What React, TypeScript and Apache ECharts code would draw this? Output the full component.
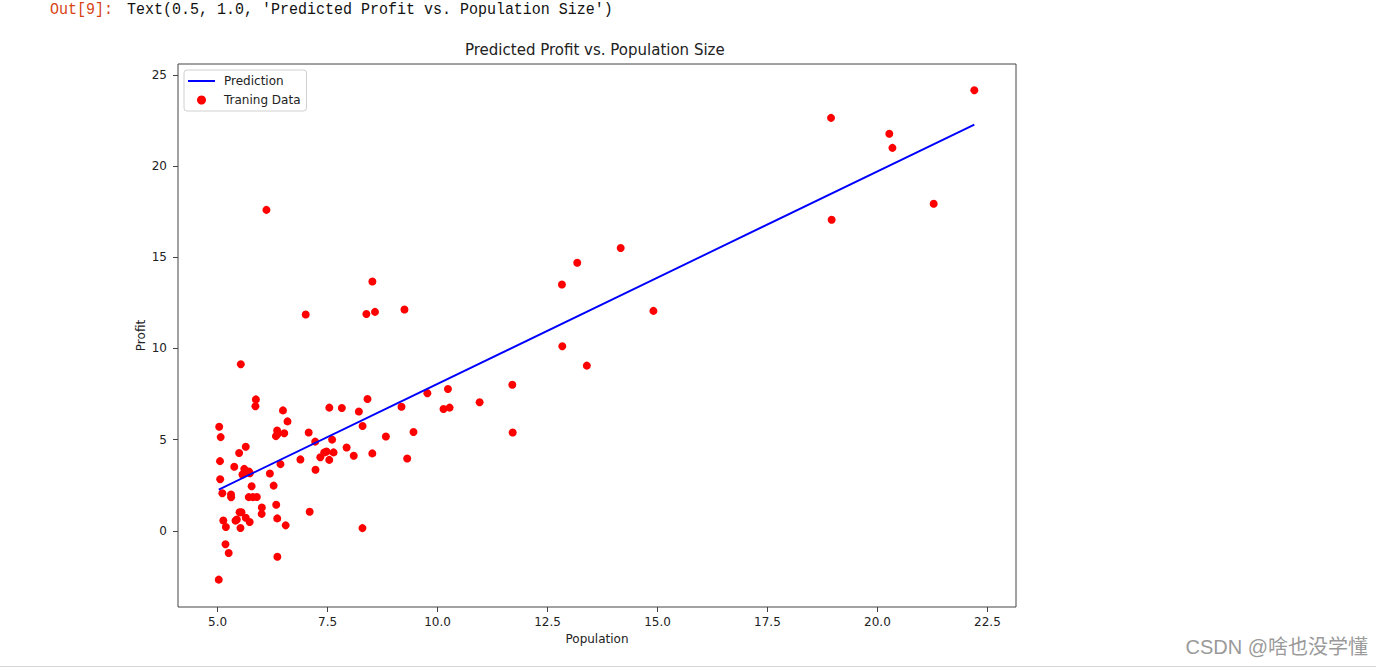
import React, { useEffect, useRef } from "react";
import * as echarts from "echarts";

const population = [
  6.1101, 5.5277, 8.5186, 7.0032, 5.8598, 8.3829, 7.4764, 8.5781, 6.4862, 5.0546,
  5.7107, 14.164, 5.734, 8.4084, 5.6407, 5.3794, 6.3654, 5.1301, 6.4296, 7.0708,
  6.1891, 20.27, 5.4901, 6.3261, 5.5649, 18.945, 12.828, 10.957, 13.176, 22.203,
  5.2524, 6.5894, 9.2482, 5.8918, 8.2111, 7.9334, 8.0959, 5.6063, 12.836, 6.3534,
  5.4069, 6.8825, 11.708, 5.7737, 7.8247, 7.0931, 5.0702, 5.8014, 11.7, 5.5416,
  7.5402, 5.3077, 7.4239, 7.6031, 6.3328, 6.3589, 6.2742, 5.6397, 9.3102, 9.4536,
  8.8254, 5.1793, 21.279, 14.908, 18.959, 7.2182, 8.2951, 10.236, 5.4994, 20.341,
  10.136, 7.3345, 6.0062, 7.2259, 5.0269, 6.5479, 7.5386, 5.0365, 10.274, 5.1077,
  5.7292, 5.1884, 6.3557, 9.7687, 6.5159, 8.5172, 9.1802, 6.002, 5.5204, 5.0594,
  5.7077, 7.6366, 5.8707, 5.3054, 8.2934, 13.394, 5.4369,
];
const profit = [
  17.592, 9.1302, 13.662, 11.854, 6.8233, 11.886, 4.3483, 12.0, 6.5987, 3.8166,
  3.2522, 15.505, 3.1551, 7.2258, 0.71618, 3.5129, 5.3048, 0.56077, 3.6518, 5.3893,
  3.1386, 21.767, 4.263, 5.1875, 3.0825, 22.638, 13.501, 7.0467, 14.692, 24.147,
  -1.22, 5.9966, 12.134, 1.8495, 6.5426, 4.5623, 4.1164, 3.3928, 10.117, 5.4974,
  0.55657, 3.9115, 5.3854, 2.4406, 6.7318, 1.0463, 5.1337, 1.844, 8.0043, 1.0179,
  6.7504, 1.8396, 4.2885, 4.9981, 1.4233, -1.4211, 2.4756, 4.6042, 3.9624, 5.4141,
  5.1694, -0.74279, 17.929, 12.054, 17.054, 4.8852, 5.7442, 7.7754, 1.0173, 20.992,
  6.6799, 4.0259, 1.2784, 3.3411, -2.6807, 0.29678, 3.8845, 5.7014, 6.7526, 2.0576,
  0.47953, 0.20421, 0.67861, 7.5435, 5.3436, 4.2415, 6.7981, 0.92695, 0.152, 2.8214,
  1.8451, 4.2959, 7.2029, 1.9869, 0.14454, 9.0551, 0.61705,
];
const predictionX = [5.0269, 22.203];
const predictionY = [2.26, 22.27];
const xTicks = [5, 7.5, 10, 12.5, 15, 17.5, 20, 22.5];
const yTicks = [0, 5, 10, 15, 20, 25];

const FONT = "DejaVu Sans";

export default function App() {
  const ref = useRef<HTMLDivElement>(null);
  useEffect(() => {
    if (!ref.current) return;
    const chart = echarts.init(ref.current, null, { renderer: "svg" });
    const scatterData = population.map((x, i) => [x, profit[i]]);
    const lineData = predictionX.map((x, i) => [x, predictionY[i]]);
    chart.setOption({
      animation: false,
      backgroundColor: "#ffffff",
      textStyle: { fontFamily: FONT },
      title: {
        text: "Predicted Profit vs. Population Size",
        left: 465,
        top: 42,
        padding: 0,
        textStyle: { fontFamily: FONT, fontSize: 15, fontWeight: "normal", color: "#222" },
      },
      legend: {
        orient: "vertical",
        left: 184,
        top: 70,
        padding: [4, 6, 4, 4],
        itemWidth: 27,
        itemHeight: 9,
        itemGap: 5,
        borderColor: "#d0d0d0",
        borderWidth: 1,
        borderRadius: 3,
        backgroundColor: "rgba(255,255,255,0.8)",
        data: [
          { name: "Prediction", icon: "path://M0,0 L27,0 L27,2 L0,2 Z", itemStyle: { color: "#0000ff" } },
          { name: "Traning Data", icon: "circle" },
        ],
        textStyle: { fontFamily: FONT, fontSize: 12, color: "#222", lineHeight: 14, padding: [0, 0, 0, 4] },
      },
      grid: {
        left: 178,
        top: 64,
        right: 360,
        bottom: 61,
        show: true,
        borderColor: "#444",
        borderWidth: 1,
      },
      xAxis: {
        type: "value",
        min: 4.1,
        max: 23.15,
        name: "Population",
        nameLocation: "middle",
        nameGap: 26,
        nameMoveOverlap: false,
        nameTextStyle: { fontFamily: FONT, fontSize: 12, color: "#222" },
        axisLine: { show: false, onZero: false },
        splitLine: { show: false },
        axisTick: { show: true, inside: false, length: 5, customValues: xTicks, lineStyle: { color: "#444" } },
        axisLabel: {
          customValues: xTicks,
          margin: 9,
          fontFamily: FONT,
          fontSize: 12,
          color: "#222",
          formatter: (v: number) => v.toFixed(1),
        },
      },
      yAxis: {
        type: "value",
        min: -4.18,
        max: 25.59,
        name: "Profit",
        nameLocation: "middle",
        nameGap: 31,
        nameMoveOverlap: false,
        nameTextStyle: { fontFamily: FONT, fontSize: 12, color: "#222" },
        axisLine: { show: false, onZero: false },
        splitLine: { show: false },
        axisTick: { show: true, inside: false, length: 5, customValues: yTicks, lineStyle: { color: "#444" } },
        axisLabel: {
          customValues: yTicks,
          margin: 11,
          fontFamily: FONT,
          fontSize: 12,
          color: "#222",
          formatter: (v: number) => String(Math.round(v)),
        },
      },
      series: [
        {
          name: "Prediction",
          type: "line",
          data: lineData,
          symbol: "none",
          z: 3,
          lineStyle: { color: "#0000ff", width: 1.9 },
          itemStyle: { color: "#0000ff" },
        },
        {
          name: "Traning Data",
          type: "scatter",
          data: scatterData,
          symbol: "circle",
          symbolSize: 8,
          z: 2,
          itemStyle: { color: "#ff0000", opacity: 1 },
        },
      ],
      graphic: [
        {
          type: "text",
          left: 50,
          top: 1,
          style: { text: "Out[9]:", fontSize: 15, fontFamily: "Liberation Mono", fill: "#D84315" },
          scaleY: 1.15,
        },
        {
          type: "text",
          left: 127,
          top: 1,
          style: {
            text: "Text(0.5, 1.0, 'Predicted Profit vs. Population Size')",
            fontSize: 15,
            fontFamily: "Liberation Mono",
            fill: "#111",
          },
          scaleY: 1.15,
        },
        {
          type: "rect",
          left: 0,
          top: 666,
          shape: { width: 1376, height: 1 },
          style: { fill: "#d6d6d6" },
        },
        {
          type: "text",
          right: 8,
          top: 637,
          style: {
            text: "CSDN @啥也没学懂",
            fontSize: 20,
            fontFamily: "Liberation Sans, Noto Sans CJK SC",
            fill: "#9a9a9a",
          },
        },
      ],
    });
    return () => chart.dispose();
  }, []);
  return (
    <div
      ref={ref}
      style={{ position: "absolute", left: 0, top: 0, width: 1376, height: 668, background: "#fff" }}
    />
  );
}
